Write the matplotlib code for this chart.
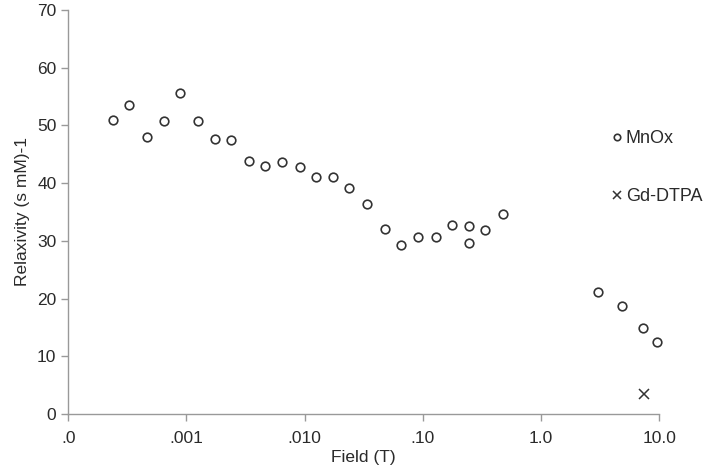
import numpy as np
import matplotlib
matplotlib.use("Agg")
import matplotlib.pyplot as plt

plt.rcParams["font.family"] = ["Liberation Sans", "DejaVu Sans"]

# MnOx relaxivity vs field (log10 of field in T)
mnox_log_field = [-3.624, -3.484, -3.337, -3.190, -3.052, -2.905, -2.756, -2.621, -2.474, -2.336,
                  -2.190, -2.040, -1.902, -1.758, -1.623, -1.470, -1.323, -1.188, -1.039, -0.892,
                  -0.754, -0.607, -0.607, -0.472, -0.322, 0.484, 0.682, 0.860, 0.978]
mnox_relax = [51.0, 53.5, 47.9, 50.7, 55.6, 50.7, 47.7, 47.5, 43.9, 43.0,
              43.7, 42.8, 41.0, 41.0, 39.1, 36.4, 32.1, 29.3, 30.7, 30.6,
              32.8, 32.6, 29.6, 31.9, 34.7, 21.2, 18.8, 14.9, 12.5]
gd_field = [10 ** 0.870]
gd_relax = [3.5]

xtick_vals = [1e-4, 1e-3, 1e-2, 1e-1, 1.0, 10.0]
xtick_labels = [".0", ".001", ".010", ".10", "1.0", "10.0"]
ytick_vals = [0, 10, 20, 30, 40, 50, 60, 70]

mnox_field = [10 ** v for v in mnox_log_field]

txt = "#2a2a2a"
fig = plt.figure(figsize=(7.09, 4.74), dpi=100)
ax = fig.add_axes([0.0963, 0.126, 0.8334, 0.8535])
ax.plot(mnox_field, mnox_relax, "o", mfc="white", mec="#333333", mew=1.2, ms=6.2, ls="none",
        label="MnOx", clip_on=False)
ax.plot(gd_field, gd_relax, "x", color="#333333", mew=1.1, ms=7, ls="none", label="Gd-DTPA", clip_on=False)

ax.set_xscale("log")
ax.set_xlim(1e-4, 10)
ax.set_ylim(0, 70)
ax.set_xticks(xtick_vals, xtick_labels)
ax.xaxis.set_minor_locator(matplotlib.ticker.NullLocator())
ax.set_yticks(ytick_vals)
for s in ["top", "right"]:
    ax.spines[s].set_visible(False)
for s in ["left", "bottom"]:
    ax.spines[s].set_color("#999999")
    ax.spines[s].set_linewidth(1.0)
ax.tick_params(colors="#999999", labelcolor=txt, labelsize=12.5, length=5, width=1.0)
ax.tick_params(axis="x", pad=7)
ax.set_xlabel("Field (T)", fontsize=12.5, color=txt, labelpad=3)
ax.set_ylabel("Relaxivity (s mM)-1", fontsize=12.5, color=txt, labelpad=5)

leg = ax.legend(loc="upper left", bbox_to_anchor=(0.851, 0.745), bbox_transform=fig.transFigure,
                frameon=False, fontsize=13, handlelength=0.5, handletextpad=0.25, labelspacing=2.3,
                borderpad=0, markerscale=0.75, labelcolor=txt)

fig.savefig("out.png", dpi=100)
